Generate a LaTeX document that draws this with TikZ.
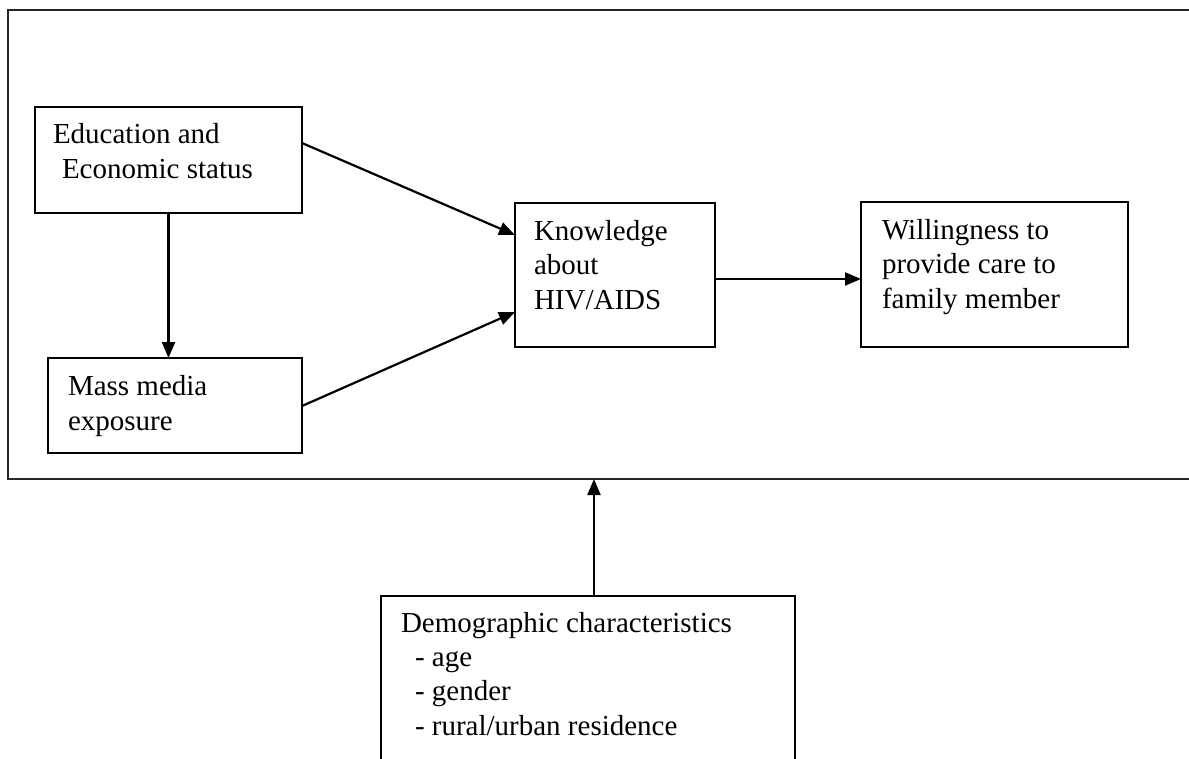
\documentclass[tikz,border=0pt]{standalone}
\usepackage{fontspec}
\setmainfont{Liberation Serif}
\usetikzlibrary{arrows.meta,calc}
\begin{document}
\begin{tikzpicture}[x=1pt,y=-1pt,
  box/.style={draw, line width=2.2pt, rectangle, inner sep=0pt, outer sep=0pt, anchor=north west},
  framebox/.style={draw=black!85, line width=2pt, rectangle, inner sep=0pt, outer sep=0pt, anchor=north west},
  lbl/.style={anchor=base west, inner sep=0pt, outer sep=0pt, align=left, font=\fontsize{29}{34.3}\selectfont},
  arr/.style={line width=2.2pt, -{Triangle[length=16pt,width=13pt]}}]
\useasboundingbox (0,0) rectangle (1189,758);
\clip (0,0) rectangle (1189,758);
% outer frame (right edge lies beyond the picture)
\node[framebox, minimum width=1210pt, minimum height=469pt] (frame) at (8,10) {};
% boxes
\node[box, minimum width=267pt, minimum height=106pt] (edu) at (35,107) {};
\node[box, minimum width=254pt, minimum height=95pt] (mass) at (48,358) {};
\node[box, minimum width=200pt, minimum height=144pt] (know) at (515,203) {};
\node[box, minimum width=267pt, minimum height=145pt] (will) at (861,202) {};
\node[box, minimum width=414pt, minimum height=200pt] (demo) at (381,596) {};
% texts (anchored at the baseline of their last line)
\node[lbl] (edutext) at (53,178) {Education and\\\hspace*{9pt}Economic status};
\node[lbl] (masstext) at (68,430) {Mass media\\exposure};
\node[lbl] (knowtext) at (534,309) {Knowledge\\about\\HIV/AIDS};
\node[lbl] (willtext) at (882,308) {Willingness to\\provide care to\\family member};
\node[lbl] (demotext) at (401,735) {Demographic characteristics\\\hspace*{14pt}- age\\\hspace*{14pt}- gender\\\hspace*{14pt}- rural/urban residence};
% connectors
\draw[arr] ($(edu.north east)+(0,36)$) -- ($(know.north west)+(0,32)$);
\draw[arr] ($(mass.north east)+(0,48)$) -- ($(know.north west)+(0,109)$);
\draw[arr] (edu.south) -- (edu.south |- mass.north);
\draw[arr] ($(know.east)+(0,4)$) -- ($(know.east -| will.west)+(0,4)$);
\coordinate (demotop) at ($(demo.north)+(6,0)$);
\draw[arr] (demotop) -- (demotop |- frame.south);
\end{tikzpicture}
\end{document}
